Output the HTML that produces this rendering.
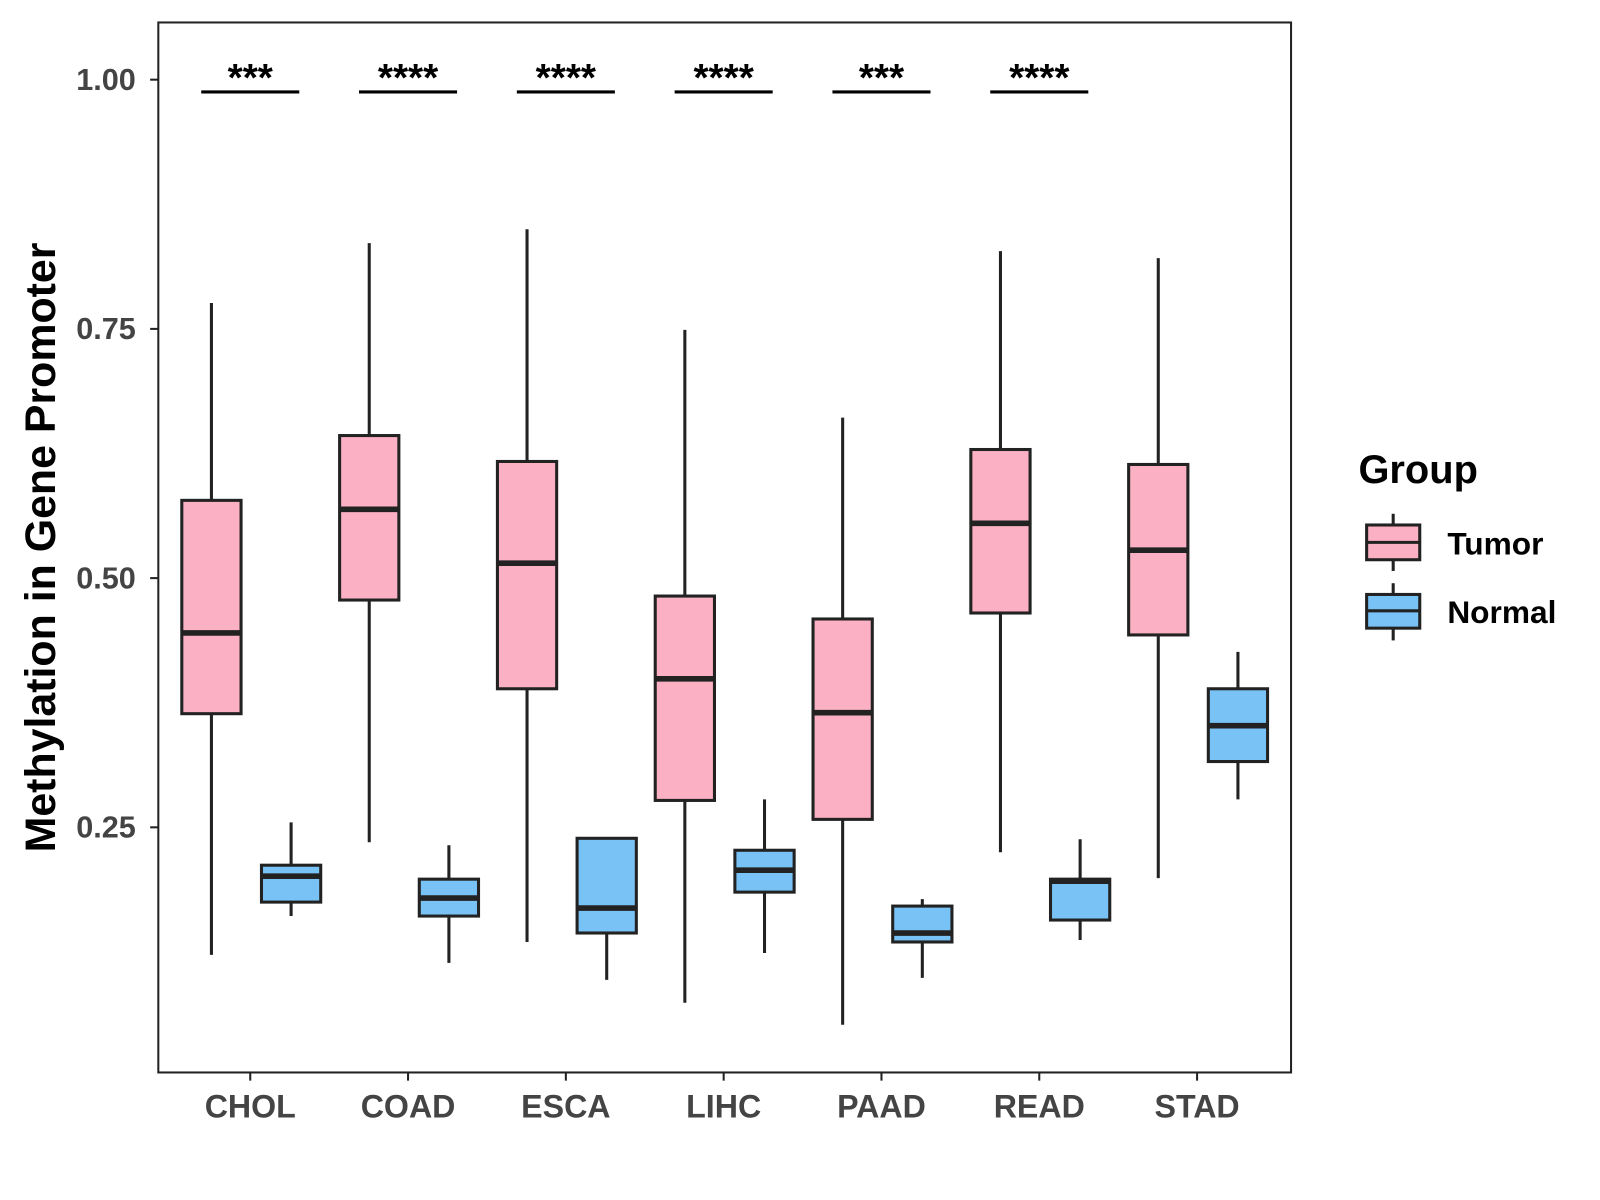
<!DOCTYPE html>
<html><head><meta charset="utf-8"><style>
html,body{margin:0;padding:0;background:#fff;}
svg{display:block;font-family:"Liberation Sans",Arial,sans-serif;}
</style></head><body>
<svg id="chart" width="1600" height="1200" viewBox="0 0 1600 1200" xmlns="http://www.w3.org/2000/svg">
<g transform="scale(1.0214)">
<rect x="155" y="22" width="1109" height="1028" fill="#fff" stroke="#222" stroke-width="2"/>
<g id="marks"></g>
<text transform="translate(54,536) rotate(-90)" text-anchor="middle" font-size="42" font-weight="bold" fill="#000">Methylation in Gene Promoter</text>
<g>
<text x="1330" y="473" font-size="39" font-weight="bold">Group</text>
<g>
<line x1="1364" y1="503" x2="1364" y2="559" stroke="#222" stroke-width="3"/>
<rect x="1338" y="514" width="52" height="34" fill="#FBB1C3" stroke="#222" stroke-width="3"/>
<line x1="1338" y1="531" x2="1390" y2="531" stroke="#222" stroke-width="3"/>
<text x="1417" y="543" font-size="31" font-weight="bold">Tumor</text></g>
<g>
<line x1="1364" y1="571" x2="1364" y2="627" stroke="#222" stroke-width="3"/>
<rect x="1338" y="582" width="52" height="33" fill="#79C2F6" stroke="#222" stroke-width="3"/>
<line x1="1338" y1="598" x2="1390" y2="598" stroke="#222" stroke-width="3"/>
<text x="1417" y="610" font-size="31" font-weight="bold">Normal</text></g>
</g>
</g>
</svg>
<script>
const categories=["CHOL","COAD","ESCA","LIHC","PAAD","READ","STAD"];
const tumorMin=[0.122,0.235,0.135,0.074,0.052,0.225,0.199];
const tumorQ1=[0.364,0.478,0.389,0.277,0.258,0.465,0.443];
const tumorMed=[0.445,0.569,0.515,0.399,0.365,0.555,0.528];
const tumorQ3=[0.578,0.643,0.617,0.482,0.459,0.629,0.614];
const tumorMax=[0.776,0.836,0.850,0.749,0.661,0.828,0.821];
const normalMin=[0.161,0.114,0.097,0.124,0.099,0.137,0.278];
const normalQ1=[0.175,0.161,0.144,0.185,0.135,0.157,0.316];
const normalMed=[0.201,0.179,0.169,0.207,0.144,0.196,0.352];
const normalQ3=[0.212,0.198,0.239,0.227,0.171,0.198,0.389];
const normalMax=[0.255,0.232,0.239,0.278,0.178,0.238,0.426];
const signif=["***","****","****","****","***","****",""];
const yTicks=[0.25,0.50,0.75,1.00];
const yTickLabels=["0.25","0.50","0.75","1.00"];

const NS="http://www.w3.org/2000/svg";
const g=document.getElementById("marks");
const y=v=>78+(1-v)*976;
const x=i=>245+i*154.5;
function el(tag,attrs,parent){const e=document.createElementNS(NS,tag);for(const k in attrs)e.setAttribute(k,attrs[k]);(parent||g).appendChild(e);return e;}

yTicks.forEach((t,i)=>{
  const l=el("line",{x1:147,x2:155,y1:y(t),y2:y(t),stroke:"#222","stroke-width":2});
  
  
  const tx=el("text",{x:133,y:y(t)+10,"text-anchor":"end","font-size":30,"font-weight":"bold",fill:"#444"});
  tx.textContent=yTickLabels[i];
  
  
});
function box(cx,mn,q1,md,q3,mx,fill,name){
  const grp=el("g",{});
  
  
  el("line",{x1:cx,x2:cx,y1:y(mx),y2:y(mn),stroke:"#222","stroke-width":3},grp);
  el("rect",{x:cx-29,y:y(q3),width:58,height:y(q1)-y(q3),fill:fill,stroke:"#222","stroke-width":3},grp);
  el("line",{x1:cx-29,x2:cx+29,y1:y(md),y2:y(md),stroke:"#222","stroke-width":5.5},grp);
}
categories.forEach((c,i)=>{
  const cx=x(i);
  box(cx-38,tumorMin[i],tumorQ1[i],tumorMed[i],tumorQ3[i],tumorMax[i],"#FBB1C3","box-tumor-"+c.toLowerCase());
  box(cx+40,normalMin[i],normalQ1[i],normalMed[i],normalQ3[i],normalMax[i],"#79C2F6","box-normal-"+c.toLowerCase());
  const tk=el("line",{x1:cx,x2:cx,y1:1050,y2:1058,stroke:"#222","stroke-width":2});
  
  
  const lab=el("text",{x:cx,y:1094,"text-anchor":"middle","font-size":31.5,"font-weight":"bold",fill:"#444"});
  lab.textContent=c;
  
  
  if(signif[i]){
    const b=el("line",{x1:cx-48,x2:cx+48,y1:90,y2:90,stroke:"#000","stroke-width":3});
    
    
    const s=el("text",{x:cx,y:89,"text-anchor":"middle","font-size":38,"font-weight":"bold",fill:"#000"});
    s.textContent=signif[i];
    
    
  }
});
</script>
</body></html>
